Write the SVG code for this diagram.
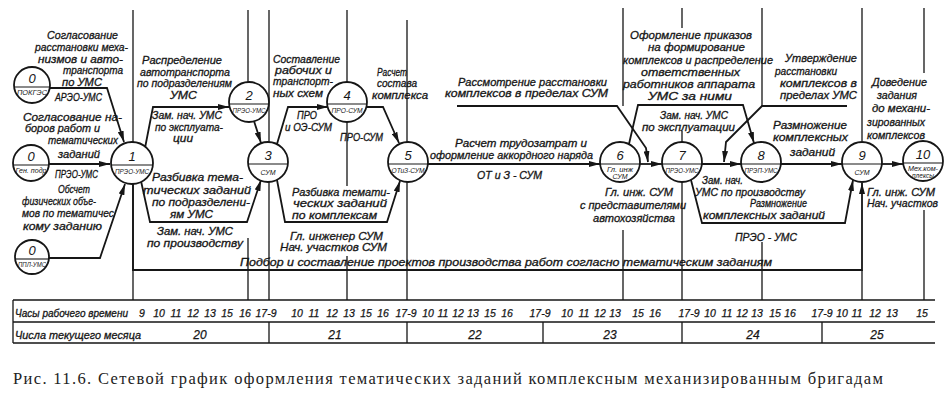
<svg xmlns="http://www.w3.org/2000/svg" width="952" height="401" viewBox="0 0 952 401">
<defs>
<style>
.ln{fill:none;stroke:#161616;stroke-width:1.8;stroke-linejoin:miter}
.gr{fill:none;stroke:#161616;stroke-width:1.3}
.nd{fill:#fff;stroke:#161616;stroke-width:1.8}
.dv{stroke:#161616;stroke-width:1.1}
.t{font-family:"Liberation Sans",Arial,sans-serif;font-style:italic;font-size:10.5px;fill:#161616;stroke:#161616;stroke-width:0.3}
.n{font-family:"Liberation Sans",Arial,sans-serif;font-style:italic;font-size:13px;fill:#161616;text-anchor:middle}
.s{font-family:"Liberation Sans",Arial,sans-serif;font-style:italic;font-size:7px;fill:#161616;text-anchor:middle}
.h{font-family:"Liberation Sans",Arial,sans-serif;font-style:italic;font-size:10.5px;fill:#161616;text-anchor:middle;stroke:#161616;stroke-width:0.25}
.cap{font-family:"Liberation Serif","Times New Roman",serif;font-size:16.5px;fill:#222}
</style>
<marker id="ah" viewBox="0 0 11 6" refX="11" refY="3" markerWidth="11" markerHeight="6" markerUnits="userSpaceOnUse" orient="auto"><path d="M0,0 L11,3 L0,6 Z" fill="#161616"/></marker>
</defs>
<rect width="952" height="401" fill="#fff"/>

<g id="grid" class="gr">
<path d="M133,10V142M133,184V300"/>
<path d="M248,10V82M248,238V300"/>
<path d="M269,10V142M269,182V300"/>
<path d="M347,10V82M347,122V186M347,256V300"/>
<path d="M407,20V142M407,182V300"/>
<path d="M623,8V106M623,230V300"/>
<path d="M682,8V28M682,131V142M682,182V300"/>
<path d="M762,8V106M762,242V300"/>
<path d="M862,8V141M862,270V300"/>
<path d="M924,8V73M924,210V300"/>
</g>

<g id="table">
<path class="gr" d="M13,300H935M13,322H935M13,343H935M13,300V343M269,322V343M407,322V343M543,322V343M682,322V343M822,322V343"/>
<text class="t" x="15" y="317" font-size="10" textLength="113" lengthAdjust="spacingAndGlyphs">Часы рабочего времени</text>
<text class="t" x="15" y="339" font-size="10" textLength="126" lengthAdjust="spacingAndGlyphs">Числа текущего месяца</text>
<g class="h">
<text x="142" y="317">9</text><text x="159" y="317">10</text><text x="176" y="317">11</text><text x="193" y="317">12</text><text x="210" y="317">13</text><text x="227" y="317">15</text><text x="245" y="317">16</text><text x="266" y="317">17-9</text>
<text x="297" y="317">10</text><text x="314" y="317">11</text><text x="332" y="317">12</text><text x="349" y="317">13</text><text x="366" y="317">15</text><text x="383" y="317">16</text><text x="406" y="317">17-9</text>
<text x="428" y="317">10</text><text x="443" y="317">11</text><text x="458" y="317">12</text><text x="473" y="317">13</text><text x="490" y="317">15</text><text x="507" y="317">16</text><text x="540" y="317">17-9</text>
<text x="567" y="317">10</text><text x="584" y="317">11</text><text x="600" y="317">12</text><text x="615" y="317">13</text><text x="638" y="317">15</text><text x="655" y="317">16</text><text x="689" y="317">17-9</text>
<text x="710" y="317">10</text><text x="727" y="317">11</text><text x="742" y="317">12</text><text x="757" y="317">13</text><text x="775" y="317">15</text><text x="790" y="317">16</text><text x="822" y="317">17-9</text>
<text x="842" y="317">10</text><text x="857" y="317">11</text><text x="875" y="317">12</text><text x="892" y="317">13</text><text x="922" y="317">15</text>
<text x="200" y="339" font-size="12">20</text><text x="335" y="339" font-size="12">21</text><text x="475" y="339" font-size="12">22</text><text x="610" y="339" font-size="12">23</text><text x="753" y="339" font-size="12">24</text><text x="877" y="339" font-size="12">25</text>
</g>
</g>

<g id="connectors">
<polyline class="ln" points="50,88 107,88 124,142" marker-end="url(#ah)"/>
<polyline class="ln" points="49,164 110,164" marker-end="url(#ah)"/>
<polyline class="ln" points="49,258 100,258 125,184" marker-end="url(#ah)"/>
<polyline class="ln" points="145,148 153,107 229,107" marker-end="url(#ah)"/>
<polyline class="ln" points="141,181 150,222 247,222 261,180" marker-end="url(#ah)"/>
<polyline class="ln" points="254,121 261,143" marker-end="url(#ah)"/>
<polyline class="ln" points="277,144 288,107 328,107" marker-end="url(#ah)"/>
<polyline class="ln" points="366,107 383,107 399,143" marker-end="url(#ah)"/>
<polyline class="ln" points="277,180 285,222 387,222 400,181" marker-end="url(#ah)"/>
<polyline class="ln" points="428,164 600,164" marker-end="url(#ah)"/>
<polyline class="ln" points="457,106 617,106 646,148 648,162" marker-end="url(#ah)"/>
<polyline class="ln" points="640,164 662,164" marker-end="url(#ah)"/>
<polyline class="ln" points="629,144 638,105 743,105 754,143" marker-end="url(#ah)"/>
<polyline class="ln" points="847,106 762,106 726,142 724,162" marker-end="url(#ah)"/>
<polyline class="ln" points="702,164 741,164" marker-end="url(#ah)"/>
<polyline class="ln" points="691,180 702,223 845,223 853,180" marker-end="url(#ah)"/>
<polyline class="ln" points="781,164 842,164" marker-end="url(#ah)"/>
<polyline class="ln" points="882,164 903,164" marker-end="url(#ah)"/>
<polyline class="ln" points="133,184 133,270 862,270 862,183" marker-end="url(#ah)"/>
</g>

<g id="node-0a"><circle class="nd" cx="32" cy="85" r="18"/><line class="dv" x1="15" y1="87" x2="49" y2="87"/><text class="n" x="32" y="83">0</text><text class="s" x="32" y="95" textLength="30" lengthAdjust="spacingAndGlyphs">ПОКГЭС</text></g>
<g id="node-0b"><circle class="nd" cx="31" cy="163" r="18"/><line class="dv" x1="14" y1="165" x2="48" y2="165"/><text class="n" x="31" y="161">0</text><text class="s" x="31" y="173" textLength="31" lengthAdjust="spacingAndGlyphs">Ген. подр</text></g>
<g id="node-0c"><circle class="nd" cx="32" cy="257" r="17"/><line class="dv" x1="16" y1="259" x2="48" y2="259"/><text class="n" x="32" y="255">0</text><text class="s" x="32" y="267" textLength="28" lengthAdjust="spacingAndGlyphs">ППЛ-УМС</text></g>
<g id="node-1"><circle class="nd" cx="132" cy="163" r="21"/><line class="dv" x1="112" y1="165" x2="152" y2="165"/><text class="n" x="132" y="161">1</text><text class="s" x="132" y="174" textLength="34" lengthAdjust="spacingAndGlyphs">ПРЭО-УМС</text></g>
<g id="node-2"><circle class="nd" cx="249" cy="102" r="20"/><line class="dv" x1="230" y1="104" x2="268" y2="104"/><text class="n" x="249" y="100">2</text><text class="s" x="249" y="113" textLength="33" lengthAdjust="spacingAndGlyphs">ПРЭО-УМС</text></g>
<g id="node-3"><circle class="nd" cx="268" cy="162" r="20"/><line class="dv" x1="249" y1="164" x2="287" y2="164"/><text class="n" x="268" y="160">3</text><text class="s" x="268" y="175" font-size="9">СУМ</text></g>
<g id="node-4"><circle class="nd" cx="347" cy="102" r="20"/><line class="dv" x1="328" y1="104" x2="366" y2="104"/><text class="n" x="347" y="100">4</text><text class="s" x="347" y="113" textLength="31" lengthAdjust="spacingAndGlyphs">ПРО-СУМ</text></g>
<g id="node-5"><circle class="nd" cx="408" cy="162" r="20"/><line class="dv" x1="389" y1="164" x2="427" y2="164"/><text class="n" x="408" y="160">5</text><text class="s" x="408" y="173" textLength="33" lengthAdjust="spacingAndGlyphs">ОТиЗ-СУМ</text></g>
<g id="node-6"><circle class="nd" cx="620" cy="162" r="20"/><line class="dv" x1="601" y1="164" x2="639" y2="164"/><text class="n" x="620" y="160">6</text><text class="s" x="620" y="172" textLength="26" lengthAdjust="spacingAndGlyphs">Гл. инж</text><text class="s" x="620" y="179">СУМ</text></g>
<g id="node-7"><circle class="nd" cx="682" cy="162" r="20"/><line class="dv" x1="663" y1="164" x2="701" y2="164"/><text class="n" x="682" y="160">7</text><text class="s" x="682" y="173" textLength="33" lengthAdjust="spacingAndGlyphs">ПРЭО-УМС</text></g>
<g id="node-8"><circle class="nd" cx="761" cy="162" r="20"/><line class="dv" x1="742" y1="164" x2="780" y2="164"/><text class="n" x="761" y="160">8</text><text class="s" x="761" y="173" textLength="33" lengthAdjust="spacingAndGlyphs">ПРЭП-УМС</text></g>
<g id="node-9"><circle class="nd" cx="862" cy="162" r="20"/><line class="dv" x1="843" y1="164" x2="881" y2="164"/><text class="n" x="862" y="160">9</text><text class="s" x="862" y="175" font-size="9">СУМ</text></g>
<g id="node-10"><circle class="nd" cx="923" cy="161" r="20"/><line class="dv" x1="904" y1="163" x2="942" y2="163"/><text class="n" x="923" y="159">10</text><text class="s" x="923" y="171" textLength="30" lengthAdjust="spacingAndGlyphs">Мех.ком-</text><text class="s" x="923" y="178" textLength="22" lengthAdjust="spacingAndGlyphs">плексы</text></g>

<g id="labels" class="t">
<text x="47" y="39" textLength="71" lengthAdjust="spacingAndGlyphs">Согласование</text>
<text x="35" y="51" textLength="93" lengthAdjust="spacingAndGlyphs">расстановки меха-</text>
<text x="38" y="63" textLength="85" lengthAdjust="spacingAndGlyphs">низмов и авто-</text>
<text x="63" y="74" textLength="60" lengthAdjust="spacingAndGlyphs">транспорта</text>
<text x="62" y="86" textLength="40" lengthAdjust="spacingAndGlyphs">по УМС</text>
<text x="55" y="101" textLength="47" lengthAdjust="spacingAndGlyphs">АРЭО-УМС</text>
<text x="23" y="121" textLength="99" lengthAdjust="spacingAndGlyphs">Согласование на-</text>
<text x="25" y="132" textLength="75" lengthAdjust="spacingAndGlyphs">боров работ и</text>
<text x="48" y="144" textLength="70" lengthAdjust="spacingAndGlyphs">тематических</text>
<text x="58" y="158" textLength="42" lengthAdjust="spacingAndGlyphs">заданий</text>
<text x="55" y="178" textLength="43" lengthAdjust="spacingAndGlyphs">ПРЭО-УМС</text>
<text x="58" y="193" textLength="32" lengthAdjust="spacingAndGlyphs">Обсчет</text>
<text x="22" y="205" textLength="74" lengthAdjust="spacingAndGlyphs">физических объе-</text>
<text x="22" y="217" textLength="92" lengthAdjust="spacingAndGlyphs">мов по тематичес</text>
<text x="23" y="230" textLength="79" lengthAdjust="spacingAndGlyphs">кому заданию</text>

<text x="142" y="64" textLength="80" lengthAdjust="spacingAndGlyphs">Распределение</text>
<text x="140" y="76" textLength="90" lengthAdjust="spacingAndGlyphs">автотранспорта</text>
<text x="137" y="87" textLength="95" lengthAdjust="spacingAndGlyphs">по подразделениям</text>
<text x="170" y="99" textLength="27" lengthAdjust="spacingAndGlyphs">УМС</text>
<text x="152" y="119" textLength="70" lengthAdjust="spacingAndGlyphs">Зам. нач. УМС</text>
<text x="155" y="131" textLength="68" lengthAdjust="spacingAndGlyphs">по эксплуата-</text>
<text x="173" y="142" textLength="20" lengthAdjust="spacingAndGlyphs">ции</text>

<text x="152" y="181" textLength="91" lengthAdjust="spacingAndGlyphs">Разбивка тема-</text>
<text x="143" y="194" textLength="108" lengthAdjust="spacingAndGlyphs">тических заданий</text>
<text x="152" y="206" textLength="98" lengthAdjust="spacingAndGlyphs">по подразделени-</text>
<text x="170" y="218" textLength="43" lengthAdjust="spacingAndGlyphs">ям УМС</text>
<text x="157" y="235" textLength="76" lengthAdjust="spacingAndGlyphs">Зам. нач. УМС</text>
<text x="147" y="247" textLength="96" lengthAdjust="spacingAndGlyphs">по производству</text>

<text x="273" y="63" textLength="67" lengthAdjust="spacingAndGlyphs">Составление</text>
<text x="275" y="74" textLength="57" lengthAdjust="spacingAndGlyphs">рабочих  и</text>
<text x="273" y="85" textLength="60" lengthAdjust="spacingAndGlyphs">транспорт-</text>
<text x="273" y="97" textLength="50" lengthAdjust="spacingAndGlyphs">ных схем</text>
<text x="297" y="119" textLength="20" lengthAdjust="spacingAndGlyphs">ПРО</text>
<text x="285" y="131" textLength="47" lengthAdjust="spacingAndGlyphs">и ОЭ-СУМ</text>

<text x="377" y="76" textLength="30" lengthAdjust="spacingAndGlyphs">Расчет</text>
<text x="377" y="87" textLength="40" lengthAdjust="spacingAndGlyphs">состава</text>
<text x="372" y="99" textLength="56" lengthAdjust="spacingAndGlyphs">комплекса</text>
<text x="340" y="141" textLength="43" lengthAdjust="spacingAndGlyphs">ПРО-СУМ</text>

<text x="292" y="196" textLength="98" lengthAdjust="spacingAndGlyphs">Разбивка темати-</text>
<text x="293" y="207" textLength="94" lengthAdjust="spacingAndGlyphs">ческих заданий</text>
<text x="292" y="219" textLength="85" lengthAdjust="spacingAndGlyphs">по комплексам</text>
<text x="290" y="240" textLength="93" lengthAdjust="spacingAndGlyphs">Гл. инженер СУМ</text>
<text x="280" y="251" textLength="107" lengthAdjust="spacingAndGlyphs">Нач. участков СУМ</text>

<text x="240" y="266" textLength="532" lengthAdjust="spacingAndGlyphs">Подбор  и  составление  проектов  производства  работ  согласно  тематическим  заданиям</text>

<text x="458" y="86" textLength="149" lengthAdjust="spacingAndGlyphs">Рассмотрение расстановки</text>
<text x="445" y="97" textLength="163" lengthAdjust="spacingAndGlyphs">комплексов в пределах СУМ</text>
<text x="455" y="147" textLength="132" lengthAdjust="spacingAndGlyphs">Расчет трудозатрат и</text>
<text x="430" y="159" textLength="163" lengthAdjust="spacingAndGlyphs">оформление аккордного наряда</text>
<text x="477" y="179" textLength="65" lengthAdjust="spacingAndGlyphs">ОТ и З - СУМ</text>

<text x="605" y="196" textLength="68" lengthAdjust="spacingAndGlyphs">Гл. инж. СУМ</text>
<text x="580" y="209" textLength="106" lengthAdjust="spacingAndGlyphs">с представителями</text>
<text x="593" y="222" textLength="82" lengthAdjust="spacingAndGlyphs">автохозяйства</text>

<text x="630" y="39" textLength="122" lengthAdjust="spacingAndGlyphs">Оформление приказов</text>
<text x="648" y="51" textLength="97" lengthAdjust="spacingAndGlyphs">на формирование</text>
<text x="623" y="64" textLength="150" lengthAdjust="spacingAndGlyphs">комплексов и распределение</text>
<text x="641" y="76" textLength="99" lengthAdjust="spacingAndGlyphs">ответственных</text>
<text x="623" y="88" textLength="132" lengthAdjust="spacingAndGlyphs">работников аппарата</text>
<text x="648" y="100" textLength="84" lengthAdjust="spacingAndGlyphs">УМС за ними</text>
<text x="660" y="119" textLength="68" lengthAdjust="spacingAndGlyphs">Зам. нач. УМС</text>
<text x="642" y="131" textLength="93" lengthAdjust="spacingAndGlyphs">по эксплуатации</text>

<text x="785" y="62" textLength="72" lengthAdjust="spacingAndGlyphs">Утверждение</text>
<text x="775" y="75" textLength="62" lengthAdjust="spacingAndGlyphs">расстановки</text>
<text x="780" y="87" textLength="77" lengthAdjust="spacingAndGlyphs">комплексов в</text>
<text x="780" y="99" textLength="77" lengthAdjust="spacingAndGlyphs">пределах УМС</text>

<text x="872" y="86" textLength="55" lengthAdjust="spacingAndGlyphs">Доведение</text>
<text x="877" y="99" textLength="40" lengthAdjust="spacingAndGlyphs">задания</text>
<text x="872" y="112" textLength="58" lengthAdjust="spacingAndGlyphs">до механи-</text>
<text x="867" y="126" textLength="58" lengthAdjust="spacingAndGlyphs">зированных</text>
<text x="867" y="139" textLength="58" lengthAdjust="spacingAndGlyphs">комплексов</text>

<text x="773" y="129" textLength="74" lengthAdjust="spacingAndGlyphs">Размножение</text>
<text x="773" y="141" textLength="75" lengthAdjust="spacingAndGlyphs">комплексных</text>
<text x="790" y="156" textLength="45" lengthAdjust="spacingAndGlyphs">заданий</text>

<text x="702" y="184" textLength="41" lengthAdjust="spacingAndGlyphs">Зам. нач.</text>
<text x="695" y="196" textLength="110" lengthAdjust="spacingAndGlyphs">УМС по производству</text>
<text x="750" y="207" textLength="57" lengthAdjust="spacingAndGlyphs">Размножение</text>
<text x="703" y="219" textLength="122" lengthAdjust="spacingAndGlyphs">комплексных заданий</text>
<text x="735" y="241" textLength="62" lengthAdjust="spacingAndGlyphs">ПРЭО - УМС</text>

<text x="867" y="196" textLength="68" lengthAdjust="spacingAndGlyphs">Гл. инж. СУМ</text>
<text x="867" y="207" textLength="71" lengthAdjust="spacingAndGlyphs">Нач. участков</text>
</g>

<text id="caption" class="cap" x="13" y="384" textLength="870" lengthAdjust="spacing">Рис. 11.6. Сетевой график оформления тематических заданий комплексным  механизированным бригадам</text>
</svg>
